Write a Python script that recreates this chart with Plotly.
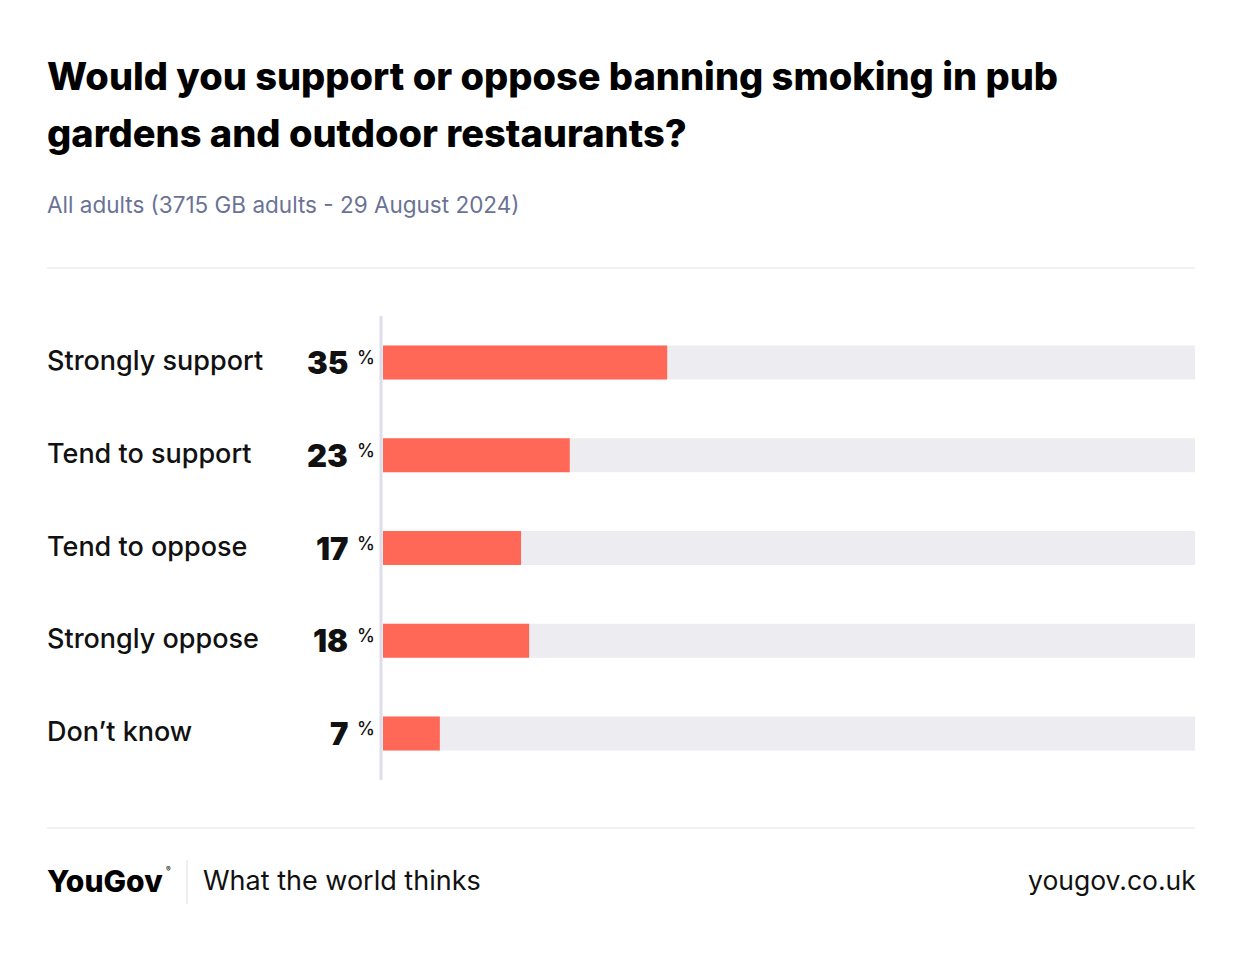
import plotly.graph_objects as go

categories = ["Strongly support", "Tend to support", "Tend to oppose", "Strongly oppose", "Don\u2019t know"]
values = [35, 23, 17, 18, 7]
full = [100, 100, 100, 100, 100]

title_lines = ["Would you support or oppose banning smoking in pub",
               "gardens and outdoor restaurants?"]
subtitle = "All adults (3715 GB adults - 29 August 2024)"

W, H = 1242, 953
OFF = 8  # page body margin offset
# screen-pixel plot area
SL, SR, ST, SB = 383, 1195, 316, 780
L, R, T, B = SL - OFF, SR - OFF, ST - OFF, SB - OFF
pw, ph = R - L, B - T

def px(x):
    return (x - SL) / pw

def py(y):
    return (SB - y) / ph

RED = "#ff6856"
BG = "#ededf1"
FONT = "Inter"

fig = go.Figure()
fig.add_trace(go.Bar(y=categories, x=full, orientation="h", marker=dict(color=BG, line=dict(width=0)),
                     width=0.366, hoverinfo="skip", showlegend=False))
fig.add_trace(go.Bar(y=categories, x=values, orientation="h", marker=dict(color=RED, line=dict(width=0)),
                     width=0.366, showlegend=False))

ann = []
for c, v in zip(categories, values):
    ann.append(dict(x=px(45), y=c, xref="paper", yref="y", text=c, showarrow=False,
                    xanchor="left", yanchor="middle", yshift=2,
                    font=dict(family=FONT, size=27, color="#111111", weight=500)))
    ann.append(dict(x=px(350), y=c, xref="paper", yref="y", text=str(v), showarrow=False,
                    xanchor="right", yanchor="middle", yshift=0,
                    font=dict(family=FONT, size=31, color="#111111", weight=900)))
    ann.append(dict(x=px(355), y=c, xref="paper", yref="y", text="%", showarrow=False,
                    xanchor="left", yanchor="middle", yshift=5,
                    font=dict(family=FONT, size=18, color="#111111", weight=500)))

ann.append(dict(x=px(45), y=py(76), xref="paper", yref="paper", text=title_lines[0], showarrow=False,
                xanchor="left", yanchor="middle",
                font=dict(family=FONT, size=38, color="#000000", weight=800)))
ann.append(dict(x=px(45), y=py(133), xref="paper", yref="paper", text=title_lines[1], showarrow=False,
                xanchor="left", yanchor="middle",
                font=dict(family=FONT, size=38, color="#000000", weight=800)))
ann.append(dict(x=px(45), y=py(204), xref="paper", yref="paper", text=subtitle, showarrow=False,
                xanchor="left", yanchor="middle",
                font=dict(family=FONT, size=22.5, color="#6a7396", weight=400)))

ann.append(dict(x=px(45), y=py(881), xref="paper", yref="paper", text="YouGov", showarrow=False,
                xanchor="left", yanchor="middle",
                font=dict(family=FONT, size=30, color="#000000", weight=800)))
ann.append(dict(x=px(164), y=py(869), xref="paper", yref="paper", text="\u00ae", showarrow=False,
                xanchor="left", yanchor="middle",
                font=dict(family=FONT, size=7, color="#000000", weight=400)))
ann.append(dict(x=px(201), y=py(880), xref="paper", yref="paper", text="What the world thinks", showarrow=False,
                xanchor="left", yanchor="middle",
                font=dict(family=FONT, size=27, color="#111111", weight=400)))
ann.append(dict(x=px(1198), y=py(880), xref="paper", yref="paper", text="yougov.co.uk", showarrow=False,
                xanchor="right", yanchor="middle",
                font=dict(family=FONT, size=26.5, color="#111111", weight=400)))

shapes = [
    dict(type="line", xref="paper", yref="paper", x0=px(381), x1=px(381), y0=py(316), y1=py(780),
         line=dict(color="#dcdfe9", width=3)),
    dict(type="line", xref="paper", yref="paper", x0=px(47), x1=px(1195), y0=py(268), y1=py(268),
         line=dict(color="#e2e3ea", width=1)),
    dict(type="line", xref="paper", yref="paper", x0=px(47), x1=px(1195), y0=py(828), y1=py(828),
         line=dict(color="#e2e3ea", width=1)),
    dict(type="line", xref="paper", yref="paper", x0=px(187), x1=px(187), y0=py(860), y1=py(904),
         line=dict(color="#dcdfe9", width=1)),
]

fig.update_layout(
    width=W, height=H,
    margin=dict(l=L, r=W - R, t=T, b=H - B, pad=0),
    paper_bgcolor="white", plot_bgcolor="white",
    barmode="overlay",
    xaxis=dict(range=[0, 100], visible=False, fixedrange=True),
    yaxis=dict(categoryorder="array", categoryarray=categories, autorange="reversed",
               visible=False, fixedrange=True),
    annotations=ann, shapes=shapes,
)

fig.write_html("out.html")
